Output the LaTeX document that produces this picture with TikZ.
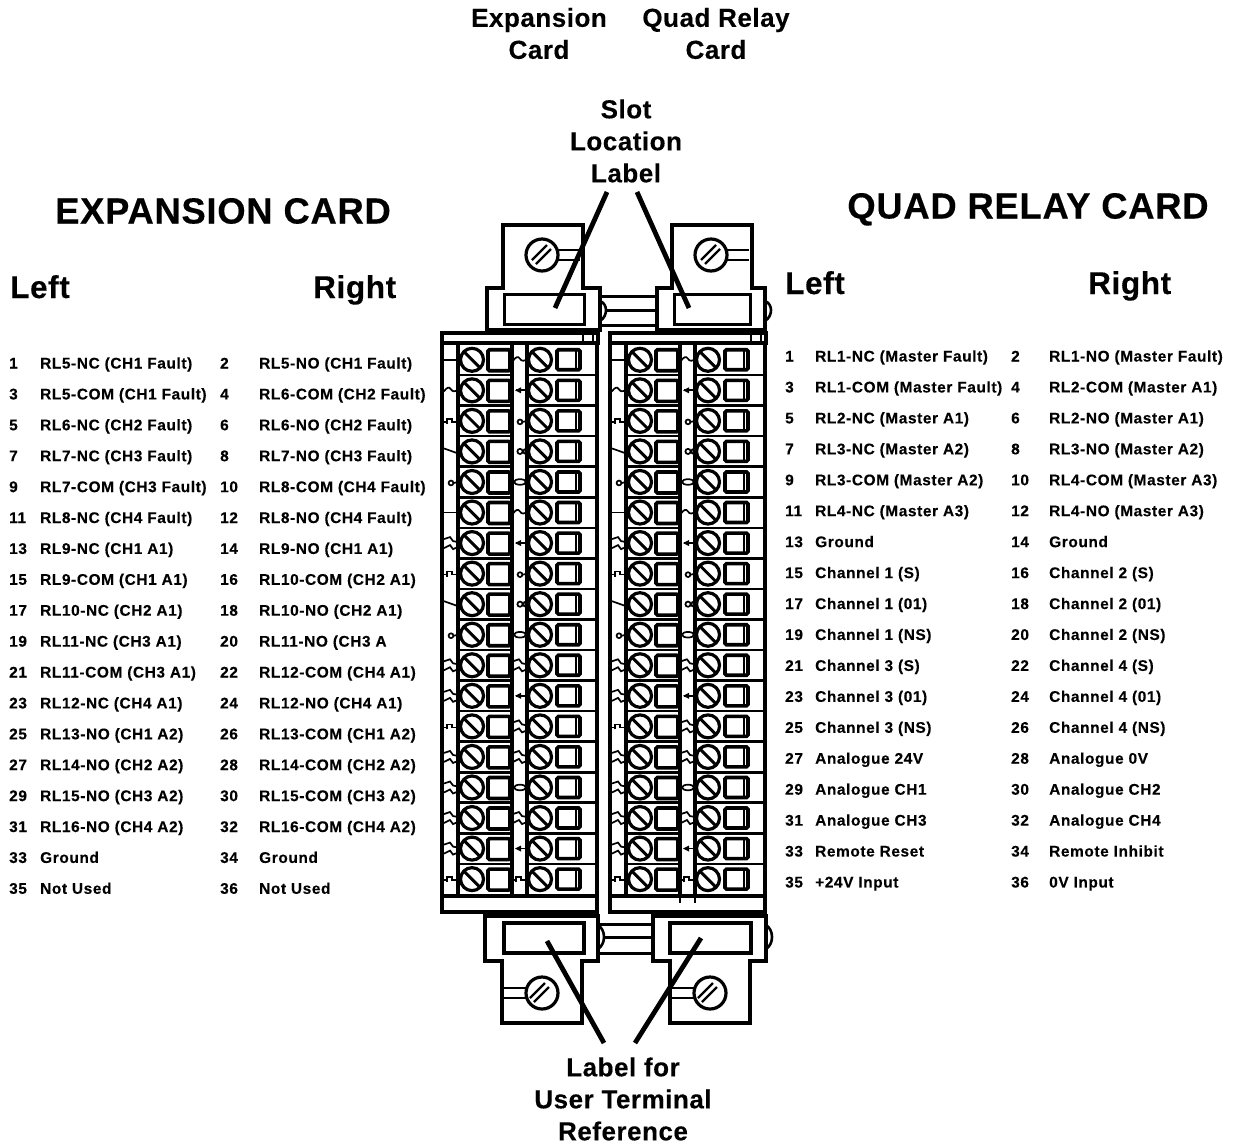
\documentclass[tikz,border=0pt]{standalone}
\usepackage{fontspec}
\setmainfont{Liberation Sans}
\newfontfamily\tabfont[LetterSpace=4,BoldFeatures={FakeBold=0.25}]{Liberation Sans}
\newfontfamily\headfont[LetterSpace=2,BoldFeatures={FakeBold=0.25}]{Liberation Sans}
\tikzset{
  x=1pt,y=-1pt,
  tabtxt/.style={anchor=base west,inner sep=0pt,font=\tabfont\fontsize{15.4}{18}\selectfont\bfseries},
  coltxt/.style={anchor=base west,inner sep=0pt,font=\headfont\fontsize{31.5}{34}\selectfont\bfseries},
  bigtxt/.style={anchor=base,inner sep=0pt,font=\headfont\fontsize{36.4}{40}\selectfont\bfseries},
  captxt/.style={anchor=center,inner sep=0pt,align=center,font=\headfont\fontsize{26}{32}\selectfont\bfseries},
  frameline/.style={line width=3.3pt,line join=miter},
  rowline/.style={line width=2.6pt},
  thinline/.style={line width=1.2pt},
  leaderline/.style={line width=4.8pt},
  screwhead/.style={line width=3.2pt,fill=white},
  termbox/.style={line width=3.6pt,rounded corners=1.5pt,fill=white},
  mk/.style={line width=1.7pt},
  mka/.pic={\draw[mk] (-14,0) -- (0,0);},
  mkb/.pic={\draw[mk] (-14,1) .. controls (-11,-3) and (-9,-4) .. (-7,-1) .. controls (-5,2) and (-3,1) .. (0,0);},
  mkc/.pic={\draw[mk] (-14,1) -- (-11,1) (-11,3) -- (-11,-2) -- (-6,-2) -- (-6,1) -- (0,1);},
  mkd/.pic={\draw[mk] (-14,-3) -- (0,2);},
  mke/.pic={\draw[mk] (-7,1) circle (2.4) (-4,1) -- (0,0);},
  mkf/.pic={\draw[mk] (-14,-4) -- (-8,-6) -- (-5,-2) -- (0,-1) (-14,5) -- (-8,2) -- (-5,6) -- (0,4);},
  mkg/.pic={\draw[mk] (-11,0) -- (0,0); \fill (-12,0) -- (-6,-3) -- (-6,3) -- cycle;},
  mkh/.pic={\draw[mk] (-7,0) circle (2.6); \draw[mk] (-1,0) circle (2.6);},
  mki/.pic={\draw[mk] (-7,0) ellipse (6 and 2.8); \draw[mk] (-1,0) -- (0,0);},
}
\begin{document}
\begin{tikzpicture}
\useasboundingbox (0,0) rectangle (1242,1144);
\fill[white] (0,0) rectangle (1242,1144);

% ---------- terminal blocks
\foreach \bx/\bname in {0/A,168/B}{
  \begin{scope}[xshift=\bx pt]
    \draw[frameline] (442,333) rectangle (598,343);
    \draw[frameline] (442,343) -- (442,912) -- (597,912) -- (597,343);
    \draw[frameline] (442,343.5) -- (597,343.5);
    \draw[rowline] (583,333) -- (583,343) (593,333) -- (593,343);
    \draw[frameline] (458,343) -- (458,895) (512,343) -- (512,895) (527,343) -- (527,895);
    \draw[frameline] (442,896) -- (597,896);
    \foreach \k in {1,...,18}{
      \pgfmathsetmacro{\ys}{344.5+30.55*\k}
      \pgfmathsetmacro{\yc}{344.5+30.55*(\k-0.5)}
      \ifnum\k<18
        \draw[rowline] (458,\ys) -- (512,\ys) (527,\ys) -- (597,\ys);
      \fi
      \draw[screwhead] (472,\yc) circle (11.5);
      \draw[line width=3pt] (464,\yc-8) -- (480,\yc+8);
      \draw[termbox] (488,\yc-10) rectangle (510,\yc+11);
      \draw[screwhead] (540,\yc) circle (11.5);
      \draw[line width=3pt] (532,\yc-8) -- (548,\yc+8);
      \draw[termbox] (557,\yc-10) rectangle (580,\yc+10);
      \draw[line width=1.8pt] (576,\yc-9) -- (576,\yc+9);
    }
    \foreach \t [count=\k] in {a,b,c,d,e,a,f,c,d,e,f,f,c,f,f,f,f,c}{
      \pgfmathsetmacro{\yc}{344.5+30.55*(\k-0.5)}
      \path (458,\yc) pic {mk\t};
    }
    \foreach \t [count=\k] in {b,g,e,h,i,b,g,e,h,i,f,g,f,f,i,f,g,c}{
      \pgfmathsetmacro{\yc}{344.5+30.55*(\k-0.5)}
      \path (527,\yc) pic {mk\t};
    }
  \end{scope}
}
\draw[thinline] (680,895) -- (680,903) (695,895) -- (695,903);

% ---------- slot connectors, top
\foreach \bx/\fl/\fr/\ul/\ur/\lr in {0/487/600/503/583/584,166/491/599/506/586/584}{
  \begin{scope}[xshift=\bx pt]
    \draw[frameline] (\ul,225) -- (\ur,225) -- (\ur,288) -- (\fr,288) -- (\fr,330) -- (\fl,330) -- (\fl,288) -- (\ul,288) -- cycle;
    \draw[frameline,line width=3pt,fill=white] (\fl+17,294) rectangle (\lr,324);
    \draw[line width=2.8pt] (\ul+55,250) -- (\ur-3,250) (\ul+55,260) -- (\ur-3,260);
    \draw[screwhead] (\ul+39,255) circle (16);
    \draw[line width=2.2pt] (\ul+29,260) -- (\ul+44,245) (\ul+33,264) -- (\ul+48,249);
    \draw[rowline] (\fr,301) .. controls (\fr+8,304) and (\fr+8,316) .. (\fr,321);
  \end{scope}
}
\draw[frameline,line width=3pt] (600,296) -- (657,296) (605,310) -- (657,310) (600,325) -- (657,325);

% ---------- connectors, bottom
\foreach \fl/\fr/\ul/\ur/\rl/\rr/\scx in {485/598/502/582/504/584/542,653/766/670/750/670/751/710}{
  \draw[frameline] (\fl,916) -- (\fr,916) -- (\fr,961) -- (\ur,961) -- (\ur,1023) -- (\ul,1023) -- (\ul,961) -- (\fl,961) -- cycle;
  \draw[frameline,fill=white] (\rl,923) rectangle (\rr,953);
  \draw[line width=2.8pt] (\ul+2,988) -- (\scx-14,988) (\ul+2,998) -- (\scx-14,998);
  \draw[screwhead] (\scx,993) circle (16);
  \draw[line width=2.2pt] (\scx-12,998) -- (\scx+3,983) (\scx-8,1002) -- (\scx+7,987);
  \draw[rowline] (\fr,925) .. controls (\fr+8,930) and (\fr+8,944) .. (\fr,949);
  \draw[rowline] (\fr-18,912) -- (\fr-18,916) (\fr-6,912) -- (\fr-6,916);
}
\draw[frameline,line width=3pt] (598,924) -- (653,924) (603,937) -- (653,937) (598,953) -- (653,953);

% ---------- captions
\node[captxt] (expcap) at (539,33.5) {Expansion\\Card};
\node[captxt] (quadcap) at (716,33.5) {Quad Relay\\Card};
\node[captxt] (slot) at (626,141) {Slot\\Location\\Label};
\node[captxt] (userlab) at (623,1099) {Label for\\User Terminal\\Reference};
\node[bigtxt] (exptitle) at (223,223.5) {EXPANSION CARD};
\node[bigtxt] (quadtitle) at (1028,218.5) {QUAD RELAY CARD};
\node[coltxt] (lA) at (10,298) {Left};
\node[coltxt] (rA) at (313,298) {Right};
\node[coltxt] (lB) at (785,294) {Left};
\node[coltxt] (rB) at (1088,294) {Right};

% ---------- leaders
\coordinate (t1) at (555,308);
\coordinate (t2) at (689,308);
\coordinate (b1) at (547,941);
\coordinate (b2) at (701,938);
\coordinate (s1) at (607,192);
\coordinate (s2) at (637,192);
\coordinate (u1) at (604,1043);
\coordinate (u2) at (635,1043);
\draw[leaderline] (s1) -- (t1);
\draw[leaderline] (s2) -- (t2);
\draw[leaderline] (u1) -- (b1);
\draw[leaderline] (u2) -- (b2);

% ---------- tables
\foreach \n/\txt [count=\i from 0] in {
 1/RL5-NC (CH1 Fault),3/RL5-COM (CH1 Fault),5/RL6-NC (CH2 Fault),7/RL7-NC (CH3 Fault),
 9/RL7-COM (CH3 Fault),11/RL8-NC (CH4 Fault),13/RL9-NC (CH1 A1),15/RL9-COM (CH1 A1),
 17/RL10-NC (CH2 A1),19/RL11-NC (CH3 A1),21/RL11-COM (CH3 A1),23/RL12-NC (CH4 A1),
 25/RL13-NO (CH1 A2),27/RL14-NO (CH2 A2),29/RL15-NO (CH3 A2),31/RL16-NO (CH4 A2),
 33/Ground,35/Not Used}{
  \pgfmathsetmacro{\yy}{368.5+30.9*\i}
  \node[tabtxt] (la\n) at (9,\yy) {\n};
  \node[tabtxt] (lt\n) at (40,\yy) {\txt};
}
\foreach \n/\txt [count=\i from 0] in {
 2/RL5-NO (CH1 Fault),4/RL6-COM (CH2 Fault),6/RL6-NO (CH2 Fault),8/RL7-NO (CH3 Fault),
 10/RL8-COM (CH4 Fault),12/RL8-NO (CH4 Fault),14/RL9-NO (CH1 A1),16/RL10-COM (CH2 A1),
 18/RL10-NO (CH2 A1),20/RL11-NO (CH3 A,22/RL12-COM (CH4 A1),24/RL12-NO (CH4 A1),
 26/RL13-COM (CH1 A2),28/RL14-COM (CH2 A2),30/RL15-COM (CH3 A2),32/RL16-COM (CH4 A2),
 34/Ground,36/Not Used}{
  \pgfmathsetmacro{\yy}{368.5+30.9*\i}
  \node[tabtxt] (ra\n) at (220,\yy) {\n};
  \node[tabtxt] (rt\n) at (259,\yy) {\txt};
}
\foreach \n/\txt [count=\i from 0] in {
 1/RL1-NC (Master Fault),3/RL1-COM (Master Fault),5/RL2-NC (Master A1),7/RL3-NC (Master A2),
 9/RL3-COM (Master A2),11/RL4-NC (Master A3),13/Ground,15/Channel 1 (S),
 17/Channel 1 (01),19/Channel 1 (NS),21/Channel 3 (S),23/Channel 3 (01),
 25/Channel 3 (NS),27/Analogue 24V,29/Analogue CH1,31/Analogue CH3,
 33/Remote Reset,35/+24V Input}{
  \pgfmathsetmacro{\yy}{361.5+30.94*\i}
  \node[tabtxt] (qa\n) at (785,\yy) {\n};
  \node[tabtxt] (qt\n) at (815,\yy) {\txt};
}
\foreach \n/\txt [count=\i from 0] in {
 2/RL1-NO (Master Fault),4/RL2-COM (Master A1),6/RL2-NO (Master A1),8/RL3-NO (Master A2),
 10/RL4-COM (Master A3),12/RL4-NO (Master A3),14/Ground,16/Channel 2 (S),
 18/Channel 2 (01),20/Channel 2 (NS),22/Channel 4 (S),24/Channel 4 (01),
 26/Channel 4 (NS),28/Analogue 0V,30/Analogue CH2,32/Analogue CH4,
 34/Remote Inhibit,36/0V Input}{
  \pgfmathsetmacro{\yy}{361.5+30.94*\i}
  \node[tabtxt] (qb\n) at (1011,\yy) {\n};
  \node[tabtxt] (qc\n) at (1049,\yy) {\txt};
}
\end{tikzpicture}
\end{document}
